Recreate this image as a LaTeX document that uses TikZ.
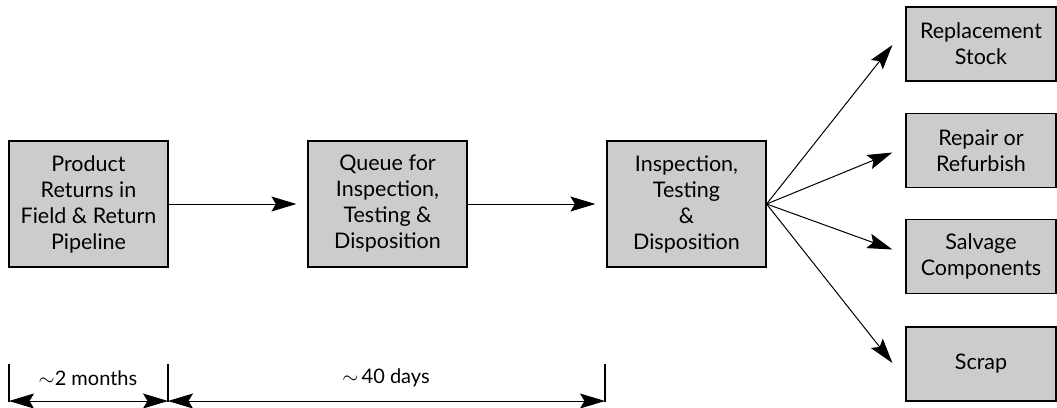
\documentclass[tikz,border=0pt]{standalone}
\usepackage{fontspec}
\setmainfont{Lato}
\usetikzlibrary{arrows.meta,calc}
\definecolor{boxgray}{RGB}{204,204,204}
\tikzset{
  procbox/.style={draw=black, line width=1.2bp, fill=boxgray, align=center,
    minimum width=159bp, minimum height=126bp, inner sep=0pt,
    font=\fontsize{21.5bp}{26bp}\selectfont},
  outbox/.style={draw=black, line width=1.2bp, fill=boxgray, align=center,
    minimum width=150bp, minimum height=74bp, inner sep=0pt,
    font=\fontsize{21.5bp}{26bp}\selectfont},
  flow/.style={line width=1bp, -{Stealth[length=25bp,width=15bp,inset=4.5bp]}},
  dim/.style={line width=1bp, {Stealth[length=25bp,width=15bp,inset=4.5bp]}-{Stealth[length=25bp,width=15bp,inset=4.5bp]}},
  tick/.style={line width=1.2bp},
  dimlabel/.style={font=\fontsize{20bp}{22bp}\selectfont}
}
\begin{document}
\begin{tikzpicture}[x=1bp,y=-1bp]
\useasboundingbox (0,0) rectangle (1057,407);
\node[procbox] (b1) at (88.5,204) {Product\\Returns in\\Field \& Return\\Pipeline};
\node[procbox] (b2) at (387.5,204) {Queue for\\Inspection,\\Testing \&\\Disposition};
\node[procbox] (b3) at (686.5,204) {Inspection,\\Testing\\\&\\Disposition};
\node[outbox] (r1) at (981,44) {Replacement\\Stock};
\node[outbox] (r2) at (981,150.5) {Repair or\\Refurbish};
\node[outbox] (r3) at (981,256.5) {Salvage\\Components};
\node[outbox] (r4) at (981,364) {Scrap};
\draw[flow, shorten >=11bp] (b1.east) -- (b2.west);
\draw[flow, shorten >=11bp] (b2.east) -- (b3.west);
\coordinate (t1) at ($(r1.west)+(-13,1)$);
\coordinate (t2) at ($(r2.west)+(-13,2)$);
\coordinate (t3) at ($(r3.west)+(-13,-7)$);
\coordinate (t4) at ($(r4.west)+(-13,-1)$);
\draw[flow] (b3.east) -- (t1);
\draw[flow] (b3.east) -- (t2);
\draw[flow] (b3.east) -- (t3);
\draw[flow] (b3.east) -- (t4);
\coordinate (d0t) at (9,364);
\coordinate (d0b) at (9,402);
\coordinate (d1t) at (168,364);
\coordinate (d1b) at (168,402);
\coordinate (d2t) at (605,364);
\coordinate (d2b) at (605,402);
\draw[tick] (d0t) -- (d0b);
\draw[tick] (d1t) -- (d1b);
\draw[tick] (d2t) -- (d2b);
\draw[dim] ($(d0b)+(0,-1)$) -- ($(d1b)+(0,-1)$);
\draw[dim] ($(d1b)+(0,-1)$) -- ($(d2b)+(0,-1)$);
\node[dimlabel] (l1) at (88,378) {$\sim$2 months};
\node[dimlabel] (l2) at (386,378) {$\sim$\,40 days};
\end{tikzpicture}
\end{document}
